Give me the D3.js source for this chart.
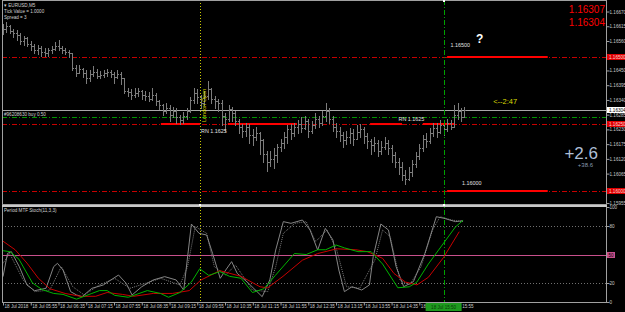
<!DOCTYPE html>
<html>
<head>
<meta charset="utf-8">
<script src="https://cdn.jsdelivr.net/npm/d3@7"></script>
<style>
body { margin: 0; background: #000; overflow: hidden; }
svg { display: block; font-family: "Liberation Sans", Arial, sans-serif; }
</style>
</head>
<body>
<svg id="chart" width="625" height="312"></svg>
<script>

// EURUSD M5 bars (bar 0 = 18 Jul 05:15)
var barOpen = [1.16600,1.16605,1.16615,1.16598,1.16590,1.16582,1.16560,1.16570,1.16548,1.16540,1.16528,1.16535,
  1.16520,1.16515,1.16525,1.16530,1.16540,1.16535,1.16528,1.16520,
  1.16515,1.16460,
  1.16440,1.16455,1.16440,1.16420,1.16435,1.16445,1.16430,1.16432,1.16440,1.16445,1.16438,1.16425,1.16435,
  1.16420,1.16375,1.16370,1.16360,1.16365,1.16372,1.16360,1.16355,1.16345,1.16360,
  1.16335,1.16320,1.16300,1.16310,1.16285,1.16300,1.16275,1.16265,1.16280,
  1.16300,1.16340,1.16365,1.16350,1.16330,
  1.16355,1.16380,1.16345,
  1.16335,1.16330,1.16280,1.16270,1.16305,
  1.16290,1.16260,1.16240,1.16225,1.16240,1.16210,1.16200,1.16215,
  1.16190,1.16140,1.16110,1.16120,1.16135,
  1.16165,1.16180,1.16200,1.16230,1.16215,1.16240,
  1.16250,1.16235,1.16260,1.16225,1.16245,1.16270,1.16255,1.16280,1.16300,1.16270,
  1.16240,1.16225,1.16210,1.16190,1.16200,1.16215,1.16195,1.16220,1.16230,1.16205,
  1.16185,1.16170,1.16180,1.16150,1.16165,1.16180,1.16160,1.16135,1.16110,
  1.16090,1.16060,1.16045,1.16070,1.16100,
  1.16130,1.16160,1.16195,1.16185,1.16215,
  1.16235,1.16220,1.16245,1.16230,1.16255,
  1.16240,1.16285,1.16300,1.16275];
var barHigh = [1.16625,1.16630,1.16620,1.16605,1.16600,1.16590,1.16580,1.16575,1.16560,1.16548,1.16545,1.16540,
  1.16532,1.16535,1.16540,1.16555,1.16565,1.16540,1.16535,1.16528,
  1.16515,1.16470,
  1.16470,1.16460,1.16450,1.16452,1.16465,1.16455,1.16448,1.16450,1.16455,1.16452,1.16445,1.16450,1.16445,
  1.16420,1.16385,1.16380,1.16385,1.16385,1.16378,1.16375,1.16370,1.16385,1.16365,
  1.16340,1.16325,1.16330,1.16320,1.16315,1.16310,1.16285,1.16295,1.16310,
  1.16350,1.16385,1.16380,1.16360,1.16375,
  1.16412,1.16385,1.16355,
  1.16345,1.16340,1.16290,1.16320,1.16315,
  1.16300,1.16270,1.16250,1.16255,1.16250,1.16230,1.16240,1.16220,
  1.16195,1.16150,1.16150,1.16160,1.16175,
  1.16195,1.16220,1.16245,1.16250,1.16255,1.16265,
  1.16275,1.16280,1.16270,1.16260,1.16290,1.16280,1.16300,1.16330,1.16310,1.16280,
  1.16255,1.16240,1.16220,1.16225,1.16235,1.16230,1.16245,1.16250,1.16240,1.16215,
  1.16195,1.16200,1.16190,1.16185,1.16200,1.16190,1.16170,1.16145,1.16125,
  1.16110,1.16080,1.16090,1.16115,1.16145,
  1.16175,1.16210,1.16215,1.16235,1.16255,
  1.16255,1.16265,1.16255,1.16270,1.16265,
  1.16320,1.16330,1.16310,1.16315];
var barLow = [1.16585,1.16595,1.16590,1.16575,1.16565,1.16550,1.16545,1.16540,1.16525,1.16515,1.16510,1.16505,
  1.16505,1.16505,1.16515,1.16525,1.16525,1.16515,1.16510,1.16500,
  1.16450,1.16430,
  1.16440,1.16425,1.16405,1.16410,1.16430,1.16420,1.16420,1.16425,1.16430,1.16425,1.16405,1.16420,1.16400,
  1.16365,1.16355,1.16345,1.16350,1.16355,1.16345,1.16340,1.16335,1.16340,1.16320,
  1.16305,1.16285,1.16290,1.16260,1.16275,1.16255,1.16250,1.16255,1.16270,
  1.16295,1.16330,1.16330,1.16310,1.16320,
  1.16345,1.16330,1.16310,
  1.16300,1.16245,1.16225,1.16260,1.16260,
  1.16245,1.16215,1.16200,1.16205,1.16180,1.16170,1.16190,1.16140,
  1.16110,1.16075,1.16095,1.16085,1.16110,
  1.16150,1.16160,1.16180,1.16195,1.16205,1.16215,
  1.16220,1.16230,1.16200,1.16215,1.16235,1.16240,1.16245,1.16260,1.16255,1.16225,
  1.16200,1.16185,1.16165,1.16175,1.16180,1.16170,1.16195,1.16200,1.16180,1.16160,
  1.16140,1.16150,1.16130,1.16140,1.16155,1.16140,1.16110,1.16090,1.16065,
  1.16040,1.16025,1.16040,1.16055,1.16090,
  1.16120,1.16150,1.16165,1.16180,1.16205,
  1.16200,1.16215,1.16210,1.16225,1.16230,
  1.16240,1.16270,1.16260,1.16280];
var barClose = [1.16605,1.16615,1.16598,1.16590,1.16582,1.16560,1.16570,1.16548,1.16540,1.16528,1.16535,1.16520,
  1.16515,1.16525,1.16530,1.16540,1.16535,1.16528,1.16520,1.16515,
  1.16460,1.16440,
  1.16455,1.16440,1.16420,1.16435,1.16445,1.16430,1.16432,1.16440,1.16445,1.16438,1.16425,1.16435,1.16420,
  1.16375,1.16370,1.16360,1.16365,1.16372,1.16360,1.16355,1.16345,1.16360,1.16335,
  1.16320,1.16300,1.16310,1.16285,1.16300,1.16275,1.16265,1.16280,1.16300,
  1.16340,1.16365,1.16350,1.16330,1.16355,
  1.16380,1.16345,1.16335,
  1.16330,1.16280,1.16270,1.16305,1.16290,
  1.16260,1.16240,1.16225,1.16240,1.16210,1.16200,1.16215,1.16190,
  1.16140,1.16110,1.16120,1.16135,1.16165,
  1.16180,1.16200,1.16230,1.16215,1.16240,1.16250,
  1.16235,1.16260,1.16225,1.16245,1.16270,1.16255,1.16280,1.16300,1.16270,1.16240,
  1.16225,1.16210,1.16190,1.16200,1.16215,1.16195,1.16220,1.16230,1.16205,1.16185,
  1.16170,1.16180,1.16150,1.16165,1.16180,1.16160,1.16135,1.16110,1.16090,
  1.16060,1.16045,1.16070,1.16100,1.16130,
  1.16160,1.16195,1.16185,1.16215,1.16235,
  1.16220,1.16245,1.16230,1.16255,1.16240,
  1.16285,1.16300,1.16275,1.16304];

// price axis ticks and marked levels
var priceTicks = [1.15955,1.16065,1.16120,1.16175,1.16230,1.16285,1.16340,1.16395,1.16450,1.16560,1.16615,1.16670];
var roundLevels = [1.16500, 1.16250, 1.16000];
var bidPrice = 1.16304;
var askPrice = 1.16307;
var orderPrice = 1.16275;
// solid red zones: [from bar, to bar, price]
var zoneSegments = [[45.5,56.8,1.1625],[64.8,84.7,1.1625],[105.8,115,1.1625],[121,130,1.1625],[128,157,1.165],[128,157,1.16]];

// vertical markers (bar index)
var londonOpenBar = 56.8;
var cursorBar = 127;

// time axis
var timeTickBars = [0,8,16,24,32,40,48,56,64,72,80,88,96,104,112,120,128];
var timeTickLabels = ["18 Jul 2018","18 Jul 05:55","18 Jul 06:35","18 Jul 07:15","18 Jul 07:55","18 Jul 08:35",
  "18 Jul 09:15","18 Jul 09:55","18 Jul 10:35","18 Jul 11:15","18 Jul 11:55","18 Jul 12:35","18 Jul 13:15",
  "18 Jul 13:55","18 Jul 14:35","18 Jul 15:15","18 Jul 15:55"];

// Period MTF Stoch(11,3,3): [bar, value]
var stochMain = [[0,26.7],[1.3,51.2],[2.4,53],[4.7,37.2],[6.9,17.9],[9.1,11.9],[12.4,14.4],[14.6,37.2],[15.7,40.7],
  [17.3,33.7],[19.5,10.9],[21.2,7.4],[22.8,5.6],[25.6,14.4],[28.9,17.9],[31.1,23.2],[33.3,28.4],[35.5,19.6],
  [37.2,7.4],[40,16.1],[43.3,23.2],[46.6,26.7],[49.9,23.2],[52.1,12.6],[54.3,82.1],[56.5,72.3],[58.7,70.5],
  [60.4,51.2],[62.6,24.9],[64.2,33.7],[65.9,42.5],[67.5,30.2],[70.8,19.6],[74.7,5.6],[76.9,23.2],[78.6,54.7],
  [80.8,84.6],[83,82.8],[86.3,86.3],[88.5,75.8],[90.7,54.7],[92.9,77.5],[95.1,65.3],[96.8,33.7],[98.4,10.9],
  [100.6,16.1],[103.4,12.6],[105.6,17.9],[106.7,47.7],[108.9,82.1],[111.1,75.8],[113.3,37.2],[115.5,16.1],
  [118.3,21.4],[121.6,51.2],[124.9,89.8],[127.1,88.1],[130.4,84.6],[132.6,85.6]];
var stochDotted = [[0,40.7],[1.9,51.2],[5.8,23.2],[9.1,10.9],[13.5,12.6],[16.8,37.2],[20.1,16.1],[23.4,7.4],
  [27.8,17.9],[32.2,24.9],[36.6,14.4],[41,19.6],[45.5,24.9],[51,17.9],[53.2,37.2],[55.4,79.3],[58.7,72.3],
  [60.9,37.2],[64.2,28.4],[67,39],[71.9,12.6],[76.3,10.9],[78.6,37.2],[80.8,72.3],[84.1,82.8],[87.4,84.6],
  [90.1,63.5],[93.4,75.8],[96.2,54.7],[99,16.1],[102.8,14.4],[107.2,44.2],[109.4,75.8],[111.6,68.8],
  [114.4,23.2],[117.2,17.9],[120.5,37.2],[123.8,75.8],[126,89.8],[129.3,86.3],[132.6,84.6]];
var stochSignal = [[0,54],[2,53],[4.6,45],[8.5,20],[11.3,13],[14.6,9],[17.3,8],[21.2,3],[25.6,9],[27.8,12],
  [30,12],[32.2,7],[36.1,5],[41.6,12],[45.4,9],[47.7,5],[51,10],[54.3,21],[56.7,35],[59.3,28],[62.5,32],
  [65.3,27],[68.6,25],[71.9,10],[75.2,14],[78.5,28],[84,51],[87.4,50],[90.7,55],[93,55],[96,60],[98.4,57],
  [102.3,53],[106.1,53],[109.4,40],[113.8,15],[117.1,16],[119.3,21],[122.6,40],[127,62],[130.4,79],[132.6,86]];
var stochSlow = [[0,64],[3.5,55],[6.9,41],[10.2,25],[13.5,14],[17.9,9],[22.3,6],[26.7,6],[30,10],[34.4,8],
  [37.7,6],[43.3,9],[48.8,9],[53.7,12],[57,23],[62.5,33],[68.6,27],[74.1,16],[76.3,15],[80.7,27],[86.3,44],
  [90.7,51],[96.2,56],[101.7,55],[105,53],[109.4,46],[112.7,30],[116,21],[119.3,18],[122.6,26],[127,47],[131.5,74]];
var stochTicks = [100, 80, 20, 0];
var stochLevels = [80, 20];

var svg = d3.select("#chart");
var W = 625, H = 312;
var plotLeft = 2, plotRight = 606;
var mainTop = 0, mainBottom = 204, indTop = 207, indBottom = 302;

svg.append("rect").attr("width", W).attr("height", H).attr("fill", "#000");

var x = d3.scaleLinear().domain([0, 173.8]).range([3, plotRight]);
var y = d3.scaleLinear().domain([1.159515, 1.16713]).range([mainBottom, mainTop]);
var yi = d3.scaleLinear().domain([0, 100]).range([indBottom, indTop]);

function px(v) { return Math.round(v) + 0.5; }

var defs = svg.append("defs");
defs.append("clipPath").attr("id", "clipMain").append("rect")
  .attr("x", plotLeft).attr("y", mainTop).attr("width", plotRight - plotLeft).attr("height", mainBottom - mainTop);
defs.append("clipPath").attr("id", "clipInd").append("rect")
  .attr("x", plotLeft).attr("y", indTop).attr("width", plotRight - plotLeft).attr("height", indBottom - indTop);

var gMain = svg.append("g").attr("clip-path", "url(#clipMain)");
var gInd = svg.append("g").attr("clip-path", "url(#clipInd)");

// ---- main window ----
gMain.selectAll("line.level").data(roundLevels).enter().append("line")
  .attr("class", "level")
  .attr("x1", plotLeft).attr("x2", plotRight)
  .attr("y1", function(d) { return px(y(d)); }).attr("y2", function(d) { return px(y(d)); })
  .attr("stroke", "#c80000").attr("stroke-dasharray", "5,2,1,2");

gMain.append("line")
  .attr("x1", plotLeft).attr("x2", plotRight)
  .attr("y1", px(y(orderPrice))).attr("y2", px(y(orderPrice)))
  .attr("stroke", "#009600").attr("stroke-dasharray", "5,2,1,2");

gMain.append("line")
  .attr("x1", plotLeft).attr("x2", plotRight)
  .attr("y1", px(y(bidPrice))).attr("y2", px(y(bidPrice)))
  .attr("stroke", "#a8a8a8");

gMain.selectAll("line.zone").data(zoneSegments).enter().append("line")
  .attr("class", "zone")
  .attr("x1", function(d) { return x(d[0]); }).attr("x2", function(d) { return x(d[1]); })
  .attr("y1", function(d) { return y(d[2]); }).attr("y2", function(d) { return y(d[2]); })
  .attr("stroke", "#ff0000").attr("stroke-width", 2);

// OHLC bars
var bars = gMain.selectAll("g.bar").data(d3.range(barClose.length)).enter().append("g")
  .attr("class", "bar").attr("stroke", "#7c7c7c").attr("shape-rendering", "crispEdges");
bars.append("line")
  .attr("x1", function(i) { return px(x(i)); }).attr("x2", function(i) { return px(x(i)); })
  .attr("y1", function(i) { return y(barHigh[i]); }).attr("y2", function(i) { return y(barLow[i]) + 1; });
bars.append("line")
  .attr("x1", function(i) { return px(x(i)) - 1.5; }).attr("x2", function(i) { return px(x(i)); })
  .attr("y1", function(i) { return px(y(barOpen[i])); }).attr("y2", function(i) { return px(y(barOpen[i])); });
bars.append("line")
  .attr("x1", function(i) { return px(x(i)); }).attr("x2", function(i) { return px(x(i)) + 1.5; })
  .attr("y1", function(i) { return px(y(barClose[i])); }).attr("y2", function(i) { return px(y(barClose[i])); });

// ---- indicator window ----
gInd.selectAll("line.lvl").data(stochLevels).enter().append("line")
  .attr("x1", plotLeft).attr("x2", plotRight)
  .attr("y1", function(d) { return px(yi(d)); }).attr("y2", function(d) { return px(yi(d)); })
  .attr("stroke", "#707070").attr("stroke-dasharray", "1,2");
gInd.append("line")
  .attr("x1", plotLeft).attr("x2", plotRight)
  .attr("y1", px(yi(50))).attr("y2", px(yi(50)))
  .attr("stroke", "#c8508c");

var stochLine = d3.line().x(function(d) { return x(d[0]); }).y(function(d) { return yi(d[1]); });
gInd.append("path").datum(stochDotted).attr("d", stochLine)
  .attr("fill", "none").attr("stroke", "#7a7a7a").attr("stroke-dasharray", "1,1");
gInd.append("path").datum(stochMain).attr("d", stochLine)
  .attr("fill", "none").attr("stroke", "#858585");
gInd.append("path").datum(stochSlow).attr("d", stochLine)
  .attr("fill", "none").attr("stroke", "#c80000");
gInd.append("path").datum(stochSignal).attr("d", stochLine)
  .attr("fill", "none").attr("stroke", "#00b400");

// ---- vertical lines across both windows ----
svg.append("line")
  .attr("x1", px(x(londonOpenBar))).attr("x2", px(x(londonOpenBar)))
  .attr("y1", mainTop).attr("y2", indBottom)
  .attr("stroke", "#c8c800").attr("stroke-dasharray", "1,2");
svg.append("line")
  .attr("x1", px(x(cursorBar))).attr("x2", px(x(cursorBar)))
  .attr("y1", mainTop).attr("y2", indBottom)
  .attr("stroke", "#00a000").attr("stroke-dasharray", "5,2,1,2");

// ---- window frames ----
var frame = svg.append("g").attr("fill", "none").attr("stroke", "#a0a0a0").attr("shape-rendering", "crispEdges");
frame.append("rect").attr("x", plotLeft + 0.5).attr("y", 0.5)
  .attr("width", plotRight - plotLeft).attr("height", mainBottom);
frame.append("rect").attr("x", plotLeft + 0.5).attr("y", indTop - 1.5)
  .attr("width", plotRight - plotLeft).attr("height", indBottom - indTop + 1.5);
frame.append("line").attr("x1", plotLeft).attr("x2", plotRight + 1)
  .attr("y1", 205.5).attr("y2", 205.5).attr("stroke", "#c8c8c8").attr("stroke-width", 2);

// anchor dots of the vertical lines
svg.selectAll("rect.anchor").data([[londonOpenBar, 204], [cursorBar, 204], [cursorBar, 0]]).enter()
  .append("rect").attr("class", "anchor")
  .attr("x", function(d) { return Math.round(x(d[0])) - 1; }).attr("y", function(d) { return d[1]; })
  .attr("width", 2).attr("height", 2).attr("fill", "#ffffff");

// ---- axes ----
var priceAxis = d3.axisRight(y).tickValues(priceTicks).tickSize(3).tickFormat(d3.format(".5f"));
var gPA = svg.append("g").attr("transform", "translate(" + (plotRight + 0.5) + ",0)").call(priceAxis);
gPA.select(".domain").remove();
gPA.selectAll("line").attr("stroke", "#a0a0a0");
gPA.selectAll("text").attr("fill", "#c8c8c8").attr("font-size", "4.6px").attr("x", 3);

var stochAxis = d3.axisRight(yi).tickValues(stochTicks).tickSize(3);
var gSA = svg.append("g").attr("transform", "translate(" + (plotRight + 0.5) + ",0)").call(stochAxis);
gSA.select(".domain").remove();
gSA.selectAll("line").attr("stroke", "#a0a0a0");
gSA.selectAll("text").attr("fill", "#c8c8c8").attr("font-size", "4.6px").attr("x", 3);

var timeAxis = d3.axisBottom(x).tickValues(timeTickBars).tickSize(3)
  .tickFormat(function(d, i) { return timeTickLabels[i]; });
var gTA = svg.append("g").attr("transform", "translate(0," + (indBottom + 0.5) + ")").call(timeAxis);
gTA.select(".domain").remove();
gTA.selectAll("line").attr("stroke", "#a0a0a0");
gTA.selectAll("text").attr("fill", "#c8c8c8").attr("font-size", "4.6px")
  .attr("text-anchor", "start").attr("x", 1).attr("y", 2).attr("dy", "0.71em");

// axis price boxes
var axisBoxes = [[1.16500, "#e00000", "#ffd0d0"], [1.16250, "#e00000", "#ffd0d0"],
                 [1.16000, "#e00000", "#ffd0d0"], [bidPrice, "#ffffff", "#000000"]];
var gBox = svg.selectAll("g.pbox").data(axisBoxes).enter().append("g")
  .attr("transform", function(d) { return "translate(607," + Math.round(y(d[0])) + ")"; });
gBox.append("rect").attr("x", 0).attr("y", -3).attr("width", 18).attr("height", 6)
  .attr("fill", function(d) { return d[1]; });
gBox.append("text").attr("x", 2).attr("y", 1.7).attr("font-size", "4.6px")
  .attr("fill", function(d) { return d[2]; }).text(function(d) { return d3.format(".5f")(d[0]); });

var g50 = svg.append("g").attr("transform", "translate(607," + Math.round(yi(50)) + ")");
g50.append("rect").attr("x", 0).attr("y", -3).attr("width", 8).attr("height", 6).attr("fill", "#c8508c");
g50.append("text").attr("x", 1.5).attr("y", 1.7).attr("font-size", "4.6px").attr("fill", "#000").text("50");

// cursor time box
var cx = x(cursorBar);
svg.append("rect").attr("x", cx - 18).attr("y", 303).attr("width", 36).attr("height", 8).attr("fill", "#1e9a1e");
svg.append("text").attr("x", cx).attr("y", 309).attr("text-anchor", "middle")
  .attr("font-size", "4.6px").attr("fill", "#0a3a0a").text("18 Jul 15:50");

// ---- texts ----
var info = svg.append("g").attr("fill", "#d0d0d0").attr("font-size", "4.6px");
info.append("text").attr("x", 4).attr("y", 6.5).text("\u25BE EURUSD,M5");
info.append("text").attr("x", 4).attr("y", 12.5).text("Tick Value = 1.0000");
info.append("text").attr("x", 4).attr("y", 18.5).text("Spread = 3");
info.append("text").attr("x", 4).attr("y", 116).text("#96208630 buy 0.50");
info.append("text").attr("x", 4).attr("y", 212).text("Period MTF Stoch(11,3,3)");

svg.append("text").attr("x", 605).attr("y", 13).attr("text-anchor", "end")
  .attr("font-size", "10px").attr("fill", "#ff0000").text(d3.format(".5f")(askPrice));
svg.append("text").attr("x", 605).attr("y", 26).attr("text-anchor", "end")
  .attr("font-size", "10px").attr("fill", "#ff0000").text(d3.format(".5f")(bidPrice));

var lbl = svg.append("g").attr("fill", "#e0e0e0").attr("font-size", "5.4px");
lbl.append("text").attr("x", x(56.8) + 1).attr("y", y(1.1625) + 9).text("RN 1.1625");
lbl.append("text").attr("x", x(114)).attr("y", y(1.1625) - 3).text("RN 1.1625");
lbl.append("text").attr("x", x(129)).attr("y", y(1.165) - 10).text("1.16500");
lbl.append("text").attr("x", x(132.3)).attr("y", y(1.16) - 6).text("1.16000");

svg.append("text").attr("x", x(136.3)).attr("y", 43).attr("font-size", "12px")
  .attr("font-weight", "bold").attr("fill", "#ffffff").text("?");

svg.append("text").attr("x", x(141.3)).attr("y", 104).attr("font-size", "7.5px")
  .attr("fill", "#d8d800").text("<--2:47");

svg.append("text").attr("x", 598).attr("y", 159).attr("text-anchor", "end")
  .attr("font-size", "17px").attr("fill", "#aebfd6").text("+2.6");
svg.append("text").attr("x", 593).attr("y", 166.5).attr("text-anchor", "end")
  .attr("font-size", "6px").attr("fill", "#8a9ab0").text("+38.6");

svg.append("text")
  .attr("transform", "translate(" + (x(londonOpenBar) + 5.5) + ",122) rotate(-90)")
  .attr("font-size", "5.5px").attr("fill", "#d8d800").text("London Open");

</script>
</body>
</html>
